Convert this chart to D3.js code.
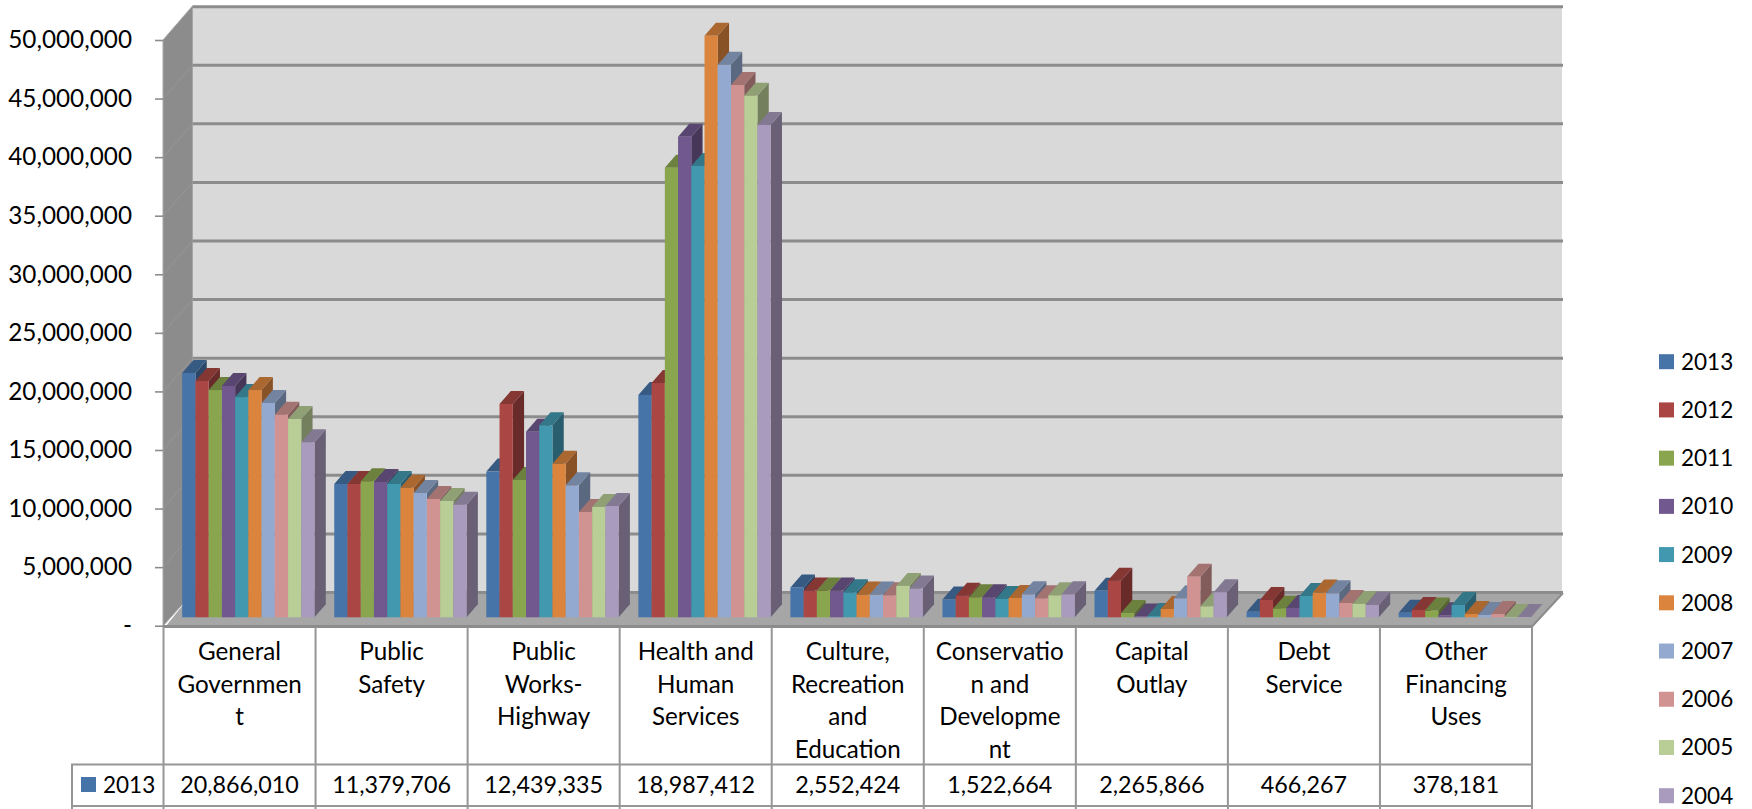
<!DOCTYPE html>
<html><head><meta charset="utf-8">
<script src="https://cdn.jsdelivr.net/npm/d3@7"></script>
<style>html,body{margin:0;padding:0;background:#fff;overflow:hidden}svg{display:block}text{font-family:Lato,"Open Sans",sans-serif;fill:#000}</style>
</head><body><svg id="c" width="1752" height="809"></svg>
<script>
const categories = [
  ["General","Governmen","t"],["Public","Safety"],["Public","Works-","Highway"],
  ["Health and","Human","Services"],["Culture,","Recreation","and","Education"],
  ["Conservatio","n and","Developme","nt"],["Capital","Outlay"],["Debt","Service"],["Other","Financing","Uses"]];
const years = ["2013","2012","2011","2010","2009","2008","2007","2006","2005","2004"];
const s2013 = [20866010,11379706,12439335,18987412,2552424,1522664,2265866,466267,378181];
const s2012 = [20170000,11380000,18210000,20000000,2280000,1850000,3130000,1480000,630000];
const s2011 = [19400000,11610000,11720000,38380000,2280000,1710000,370000,740000,570000];
const s2010 = [19750000,11550000,15850000,41030000,2280000,1710000,60000,800000,170000];
const s2009 = [18800000,11380000,16390000,38530000,2130000,1570000,110000,1820000,1050000];
const s2008 = [19400000,11060000,13110000,49650000,1940000,1650000,710000,2110000,280000];
const s2007 = [18300000,10610000,11270000,47180000,1940000,1960000,1620000,2050000,200000];
const s2006 = [17300000,10100000,8990000,45440000,1880000,1620000,3470000,1220000,280000];
const s2005 = [16930000,9930000,9420000,44530000,2680000,1880000,940000,1140000,30000];
const s2004 = [14940000,9610000,9500000,42030000,2450000,1960000,2130000,1050000,30000];
const series = [s2013,s2012,s2011,s2010,s2009,s2008,s2007,s2006,s2005,s2004];
const colors = ["#4673a8","#aa4643","#89a54e","#71588f","#4198af","#db843d","#93a9cf","#d19392","#b9cd96","#a99bbd"];
const axisTicks = d3.range(0,50000001,5000000);

const svg = d3.select("#c");
const FS = 22.5, FSaxis = 24.3, FScat = 24.2, FSval = 23.3;
const tableL=163.5, tableR=1532, colTop=627, rowTop=764.5, rowBot=806;
const x0 = d3.scaleBand().domain(d3.range(categories.length)).range([tableL,tableR]);
const x1 = d3.scaleBand().domain(years).range([18.7,151]);
const yAxis = d3.scaleLinear().domain([0,50000000]).range([625.7,40]);
const yBack = d3.scaleLinear().domain([0,50000000]).range([592.5,6.7]);
const yBar  = d3.scaleLinear().domain([0,50000000]).range([617.3,31.6]);
const wallDx=29, wallL=163, wallB=tableL+wallDx, wallR=1562;
const dx=11.3, dy=13;
const poly=p=>p.map(a=>a.join(",")).join(" ");

// walls and floor
svg.append("polygon").attr("points",poly([[wallB,6],[wallR,6],[wallR,593],[wallB,593]])).attr("fill","#d9d9d9");
svg.append("polygon").attr("points",poly([[wallL,40],[wallB,6],[wallB,593],[wallL,626]])).attr("fill","#8c8c8c").attr("stroke","#a6a6a6").attr("stroke-width",1);
svg.append("polygon").attr("points",poly([[wallL+3,626],[wallB,593],[wallR+1,593],[tableR+1,626]])).attr("fill","#a6a6a6");
svg.append("line").attr("x1",wallL).attr("x2",tableR+1).attr("y1",626.5).attr("y2",626.5).attr("stroke","#8c8c8c").attr("stroke-width",3);
svg.append("line").attr("x1",tableR).attr("x2",wallR+1).attr("y1",626.5).attr("y2",593).attr("stroke","#8c8c8c").attr("stroke-width",2);

// gridlines
svg.append("g").selectAll("line").data(axisTicks).join("line")
  .attr("x1",wallB).attr("x2",wallR+1).attr("y1",d=>yBack(d)).attr("y2",d=>yBack(d))
  .attr("stroke","#8c8c8c").attr("stroke-width",3);
svg.append("g").selectAll("line").data(axisTicks.slice(1,-1)).join("line")
  .attr("x1",wallL).attr("x2",wallB).attr("y1",d=>yAxis(d)).attr("y2",d=>yBack(d))
  .attr("stroke","#979797").attr("stroke-width",1);

// value axis
const ax = svg.append("g").attr("transform",`translate(${wallL},0)`)
  .call(d3.axisLeft(yAxis).tickValues(axisTicks).tickSize(8).tickPadding(23)
    .tickFormat(d=>d===0?"-":d3.format(",")(d)));
ax.select(".domain").remove();
ax.selectAll("line").attr("stroke","#8c8c8c").attr("stroke-width",1.6);
ax.selectAll("text").style("font-size",FSaxis+"px").style("font-family","Lato").attr("fill","#000");

// bars
const shade=(c,k)=>{const r=d3.rgb(c);return d3.rgb(r.r*k,r.g*k,r.b*k).formatHex();};
const barsG = svg.append("g");
categories.forEach((_,ci)=>{
  years.forEach((yr,si)=>{
    const v=series[si][ci], L=x0(ci)+x1(yr), R=L+x1.bandwidth(), T=yBar(v), B=yBar(0), c=colors[si];
    const g=barsG.append("g");
    g.append("polygon").attr("points",poly([[R,T],[R+dx,T-dy],[R+dx,B-dy],[R,B]])).attr("fill",shade(c,0.62));
    g.append("polygon").attr("points",poly([[L,T],[L+dx,T-dy],[R+dx,T-dy],[R,T]])).attr("fill",shade(c,0.78));
    g.append("rect").attr("x",L).attr("y",T).attr("width",x1.bandwidth()).attr("height",B-T).attr("fill",c);
  });
});

// data table
const tg = svg.append("g").attr("stroke","#969696").attr("stroke-width",2);
x0.domain().forEach(i=>tg.append("line").attr("x1",x0(i)).attr("x2",x0(i)).attr("y1",colTop).attr("y2",809));
tg.append("line").attr("x1",tableR).attr("x2",tableR).attr("y1",colTop).attr("y2",809);
tg.append("line").attr("x1",72).attr("x2",72).attr("y1",rowTop).attr("y2",809);
tg.append("line").attr("x1",71).attr("x2",tableR+1).attr("y1",rowTop).attr("y2",rowTop);
tg.append("line").attr("x1",71).attr("x2",tableR+1).attr("y1",rowBot).attr("y2",rowBot);

const lh=32.6;
categories.forEach((lines,i)=>{
  const cx=x0(i)+x0.bandwidth()/2;
  lines.forEach((t,j)=>svg.append("text").attr("x",cx).attr("y",660+j*lh).attr("text-anchor","middle").style("font-size",FScat+"px").text(t));
  svg.append("text").attr("x",cx).attr("y",793).attr("text-anchor","middle").style("font-size",FSval+"px").text(d3.format(",")(s2013[i]));
});
svg.append("rect").attr("x",81).attr("y",777).attr("width",15).attr("height",15).attr("fill",colors[0]);
svg.append("text").attr("x",103).attr("y",793).style("font-size",FS+"px").text(years[0]);

// legend
const ly=d3.scalePoint().domain(years).range([361.7,795.7]);
years.forEach((yr,i)=>{
  svg.append("rect").attr("x",1659).attr("y",ly(yr)-7.5).attr("width",15).attr("height",15).attr("fill",colors[i]);
  svg.append("text").attr("x",1681).attr("y",ly(yr)+8).style("font-size",FS+"px").text(yr);
});
</script></body></html>
